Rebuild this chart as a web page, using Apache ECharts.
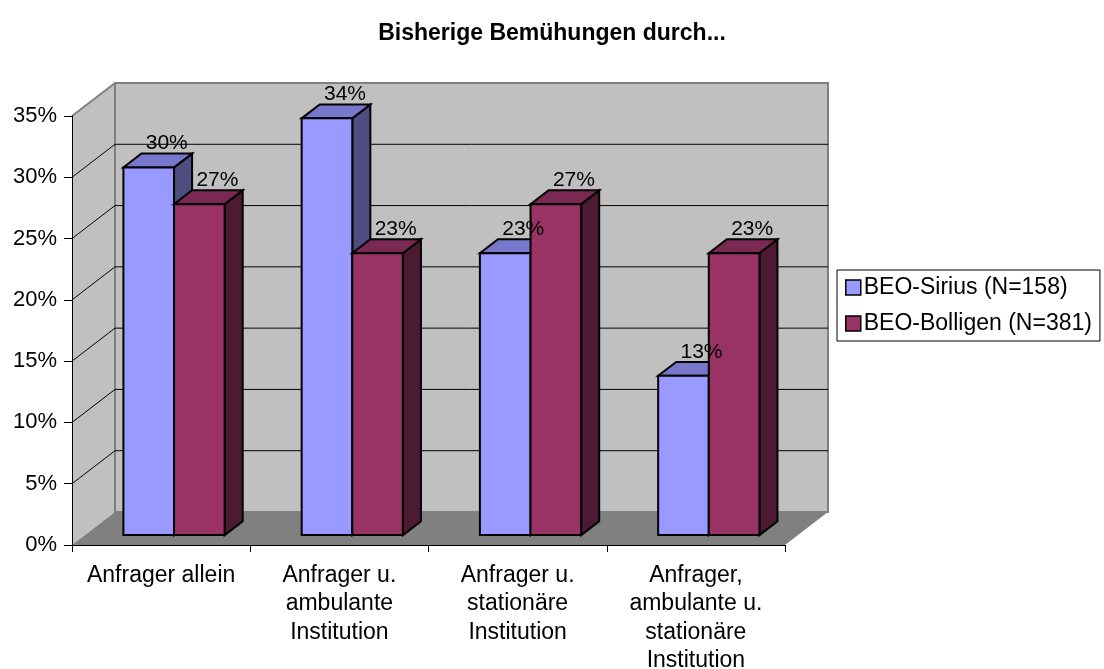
<!DOCTYPE html>
<html>
<head>
<meta charset="utf-8">
<script src="https://cdn.jsdelivr.net/npm/echarts@6/dist/echarts.min.js"></script>
<style>
  html, body { margin: 0; padding: 0; background: #ffffff; }
  #chart { width: 1104px; height: 669px; }
</style>
</head>
<body>
<div id="chart"></div>
<script>
// Categories on the x axis
const categories = [
  'Anfrager allein',
  'Anfrager u.\nambulante\nInstitution',
  'Anfrager u.\nstationäre\nInstitution',
  'Anfrager,\nambulante u.\nstationäre\nInstitution'
];
// Value axis ticks (percent)
const yTicks = [0, 5, 10, 15, 20, 25, 30, 35];
// Series values (percent)
const siriusValues = [30, 34, 23, 13];
const bolligenValues = [27, 23, 27, 23];
const seriesNames = ['BEO-Sirius (N=158)', 'BEO-Bolligen (N=381)'];
const chartTitle = 'Bisherige Bemühungen durch...';

// 3D projection: full depth of the plot box in pixels
const DEPTH_X = 43, DEPTH_Y = -33;
const BAR_FRONT = 0.30, BAR_BACK = 0.72;   // bar position inside the depth
const BAR_FRAC = 0.284;                    // bar width relative to category band
const FONT = '"Liberation Sans", Arial, sans-serif';

const palette = [
  { front: '#9999FF', top: '#7777CC', side: '#4D4D80' },
  { front: '#993366', top: '#7A2952', side: '#4D1A33' }
];

// Geometry shared by the bar bodies and their value labels
function barGeometry(slot, api) {
  const cat = api.value(0);
  const v = api.value(1);
  const base = api.coord([cat, 0]);
  const top = api.coord([cat, v]);
  const band = api.size([1, 0])[0];
  const w = band * BAR_FRAC;
  return {
    v: v,
    w: w,
    x0: base[0] + (slot === 0 ? -w : 0),
    yT: top[1],
    yB: base[1],
    fx: DEPTH_X * BAR_FRONT, fy: DEPTH_Y * BAR_FRONT,
    bx: DEPTH_X * BAR_BACK, by: DEPTH_Y * BAR_BACK
  };
}

function makeBarRenderer(slot, colors) {
  return function (params, api) {
    const g = barGeometry(slot, api);
    const { x0, w, yT, yB, fx, fy, bx, by } = g;
    const stroke = { stroke: '#000000', lineWidth: 2, lineJoin: 'miter' };
    return {
      type: 'group',
      children: [
        {
          type: 'polygon',
          shape: { points: [
            [x0 + fx + w, yT + fy], [x0 + bx + w, yT + by],
            [x0 + bx + w, yB + by], [x0 + fx + w, yB + fy]
          ] },
          style: Object.assign({ fill: colors.side }, stroke)
        },
        {
          type: 'polygon',
          shape: { points: [
            [x0 + fx, yT + fy], [x0 + fx + w, yT + fy],
            [x0 + bx + w, yT + by], [x0 + bx, yT + by]
          ] },
          style: Object.assign({ fill: colors.top }, stroke)
        },
        {
          type: 'rect',
          shape: { x: x0 + fx, y: yT + fy, width: w, height: yB - yT },
          style: Object.assign({ fill: colors.front }, stroke)
        }
      ]
    };
  };
}

function makeLabelRenderer(slot) {
  return function (params, api) {
    const g = barGeometry(slot, api);
    return {
      type: 'text',
      style: {
        x: g.x0 + g.bx + g.w / 2,
        y: g.yT + g.by - 10,
        text: g.v + '%',
        fill: '#000000',
        font: '21px ' + FONT,
        align: 'center',
        verticalAlign: 'middle'
      }
    };
  };
}

// Walls, floor and gridlines of the 3D plot box
function renderFrame(params, api) {
  const cs = params.coordSys;
  const v = api.value(1);
  const y = api.coord([0, v])[1];
  const x = cs.x, w = cs.width;
  const children = [];
  if (params.dataIndex === 0) {
    const yTop = cs.y, yBot = cs.y + cs.height;
    children.push({
      type: 'polygon',
      shape: { points: [[x, yBot], [x, yTop], [x + DEPTH_X, yTop + DEPTH_Y], [x + DEPTH_X, yBot + DEPTH_Y]] },
      style: { fill: '#C0C0C0' }
    });
    children.push({
      type: 'rect',
      shape: { x: x + DEPTH_X, y: yTop + DEPTH_Y, width: w, height: cs.height },
      style: { fill: '#C0C0C0', stroke: '#808080', lineWidth: 2 }
    });
    children.push({
      type: 'line',
      shape: { x1: x, y1: yTop, x2: x + DEPTH_X, y2: yTop + DEPTH_Y },
      style: { stroke: '#808080', lineWidth: 2 }
    });
    children.push({
      type: 'polygon',
      shape: { points: [[x, yBot], [x + w, yBot], [x + w + DEPTH_X, yBot + DEPTH_Y], [x + DEPTH_X, yBot + DEPTH_Y]] },
      style: { fill: '#808080' }
    });
  } else if (params.dataIndex < yTicks.length - 1) {
    children.push({
      type: 'line',
      shape: { x1: x + DEPTH_X, y1: y + DEPTH_Y, x2: x + w + DEPTH_X, y2: y + DEPTH_Y },
      style: { stroke: '#000000', lineWidth: 1 }
    });
    children.push({
      type: 'line',
      shape: { x1: x, y1: y, x2: x + DEPTH_X, y2: y + DEPTH_Y },
      style: { stroke: '#000000', lineWidth: 1 }
    });
  }
  return { type: 'group', children: children };
}

const chart = echarts.init(document.getElementById('chart'), null, { renderer: 'canvas' });

const siriusData = siriusValues.map((v, i) => [i, v]);
const bolligenData = bolligenValues.map((v, i) => [i, v]);

chart.setOption({
  animation: false,
  backgroundColor: '#ffffff',
  title: {
    text: chartTitle,
    left: 'center',
    top: 17,
    textStyle: { fontFamily: FONT, fontSize: 23, fontWeight: 'bold', color: '#000000' }
  },
  legend: {
    orient: 'vertical',
    left: 837,
    top: 270,
    padding: [5, 8, 5, 8],
    itemGap: 11,
    itemWidth: 15,
    itemHeight: 15,
    borderColor: '#000000',
    borderWidth: 1,
    icon: 'rect',
    itemStyle: { borderColor: '#000000', borderWidth: 1.5 },
    textStyle: { fontFamily: FONT, fontSize: 23, color: '#000000', lineHeight: 25, padding: [0, 0, 0, -2] },
    data: seriesNames
  },
  grid: { left: 72, top: 116, right: 319, bottom: 124, containLabel: false, outerBoundsMode: 'none' },
  xAxis: {
    type: 'category',
    data: categories,
    z: 10,
    axisLine: { lineStyle: { color: '#000000', width: 1 } },
    axisTick: { show: true, length: 7, lineStyle: { color: '#000000' } },
    axisLabel: { interval: 0, fontFamily: FONT, fontSize: 23, lineHeight: 28.5, color: '#000000', margin: 16 },
    splitLine: { show: false }
  },
  yAxis: {
    type: 'value',
    min: yTicks[0],
    max: yTicks[yTicks.length - 1],
    interval: 5,
    z: 10,
    axisLine: { show: true, lineStyle: { color: '#000000', width: 1 } },
    axisTick: { show: true, length: 8, lineStyle: { color: '#000000' } },
    axisLabel: { formatter: '{value}%', fontFamily: FONT, fontSize: 22, color: '#000000', margin: 15 },
    splitLine: { show: false }
  },
  series: [
    {
      type: 'custom',
      name: 'frame',
      z: 1,
      clip: false,
      silent: true,
      encode: { x: 0, y: 1 },
      data: yTicks.map(v => [0, v]),
      renderItem: renderFrame
    },
    {
      type: 'custom',
      name: seriesNames[0],
      z: 3,
      clip: false,
      itemStyle: { color: palette[0].front },
      encode: { x: 0, y: 1 },
      data: siriusData,
      renderItem: makeBarRenderer(0, palette[0])
    },
    {
      type: 'custom',
      name: seriesNames[1],
      z: 3,
      clip: false,
      itemStyle: { color: palette[1].front },
      encode: { x: 0, y: 1 },
      data: bolligenData,
      renderItem: makeBarRenderer(1, palette[1])
    },
    // Value labels sit above every bar body
    {
      type: 'custom',
      name: seriesNames[0],
      z: 5,
      clip: false,
      silent: true,
      itemStyle: { color: palette[0].front },
      encode: { x: 0, y: 1 },
      data: siriusData,
      renderItem: makeLabelRenderer(0)
    },
    {
      type: 'custom',
      name: seriesNames[1],
      z: 5,
      clip: false,
      silent: true,
      itemStyle: { color: palette[1].front },
      encode: { x: 0, y: 1 },
      data: bolligenData,
      renderItem: makeLabelRenderer(1)
    }
  ]
});
</script>
</body>
</html>
